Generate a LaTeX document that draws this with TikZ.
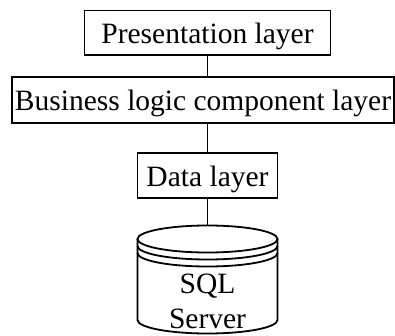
\documentclass[tikz,border=0pt]{standalone}
\usepackage{fontspec}
\setmainfont{Liberation Serif}
\usetikzlibrary{calc}

\begin{document}
\begin{tikzpicture}[x=0.5pt, y=-0.5pt, line width=0.6pt,
		font=\fontsize{14.75}{17.5}\selectfont,
		layer/.style={draw, inner sep=0pt, text height=10.5pt, text depth=0pt},
		link/.style={line width=0.4pt},
		drum/.style={line width=0.9pt}]
	\useasboundingbox (0, 0) rectangle (395, 336);
	\node[layer, minimum width=123pt, minimum height=22.25pt] (pres) at (207.5, 32.75) {Presentation layer};
	\node[layer, minimum width=191pt, minimum height=23pt] (logic) at (203, 100) {Business logic component layer};
	\node[layer, minimum width=70pt, minimum height=22.5pt] (data) at (207.5, 175.5) {Data layer};
	\coordinate (dbtop) at (207.5, 225.5);

	\draw[link] (pres.south) -- (pres.south |- logic.north);
	\draw[link] (logic.south -| data.north) -- (data.north);
	\draw[link] (data.south) -- (dbtop);

	% database drum
	\draw[drum] (207.5, 239) ellipse [x radius=35pt, y radius=6.75pt];
	\draw[drum] (137.5, 246) arc [start angle=180, end angle=360, x radius=35pt, y radius=6.75pt];
	\draw[drum] (137.5, 253) arc [start angle=180, end angle=360, x radius=35pt, y radius=6.75pt];
	\draw[drum] (137.5, 239) -- (137.5, 320) arc [start angle=180, end angle=360, x radius=35pt, y radius=6.75pt] -- (277.5, 239);
	\node[anchor=base, align=center, inner sep=0pt] (sql) at (207.5, 328.5) {SQL\\Server};
\end{tikzpicture}
\end{document}
